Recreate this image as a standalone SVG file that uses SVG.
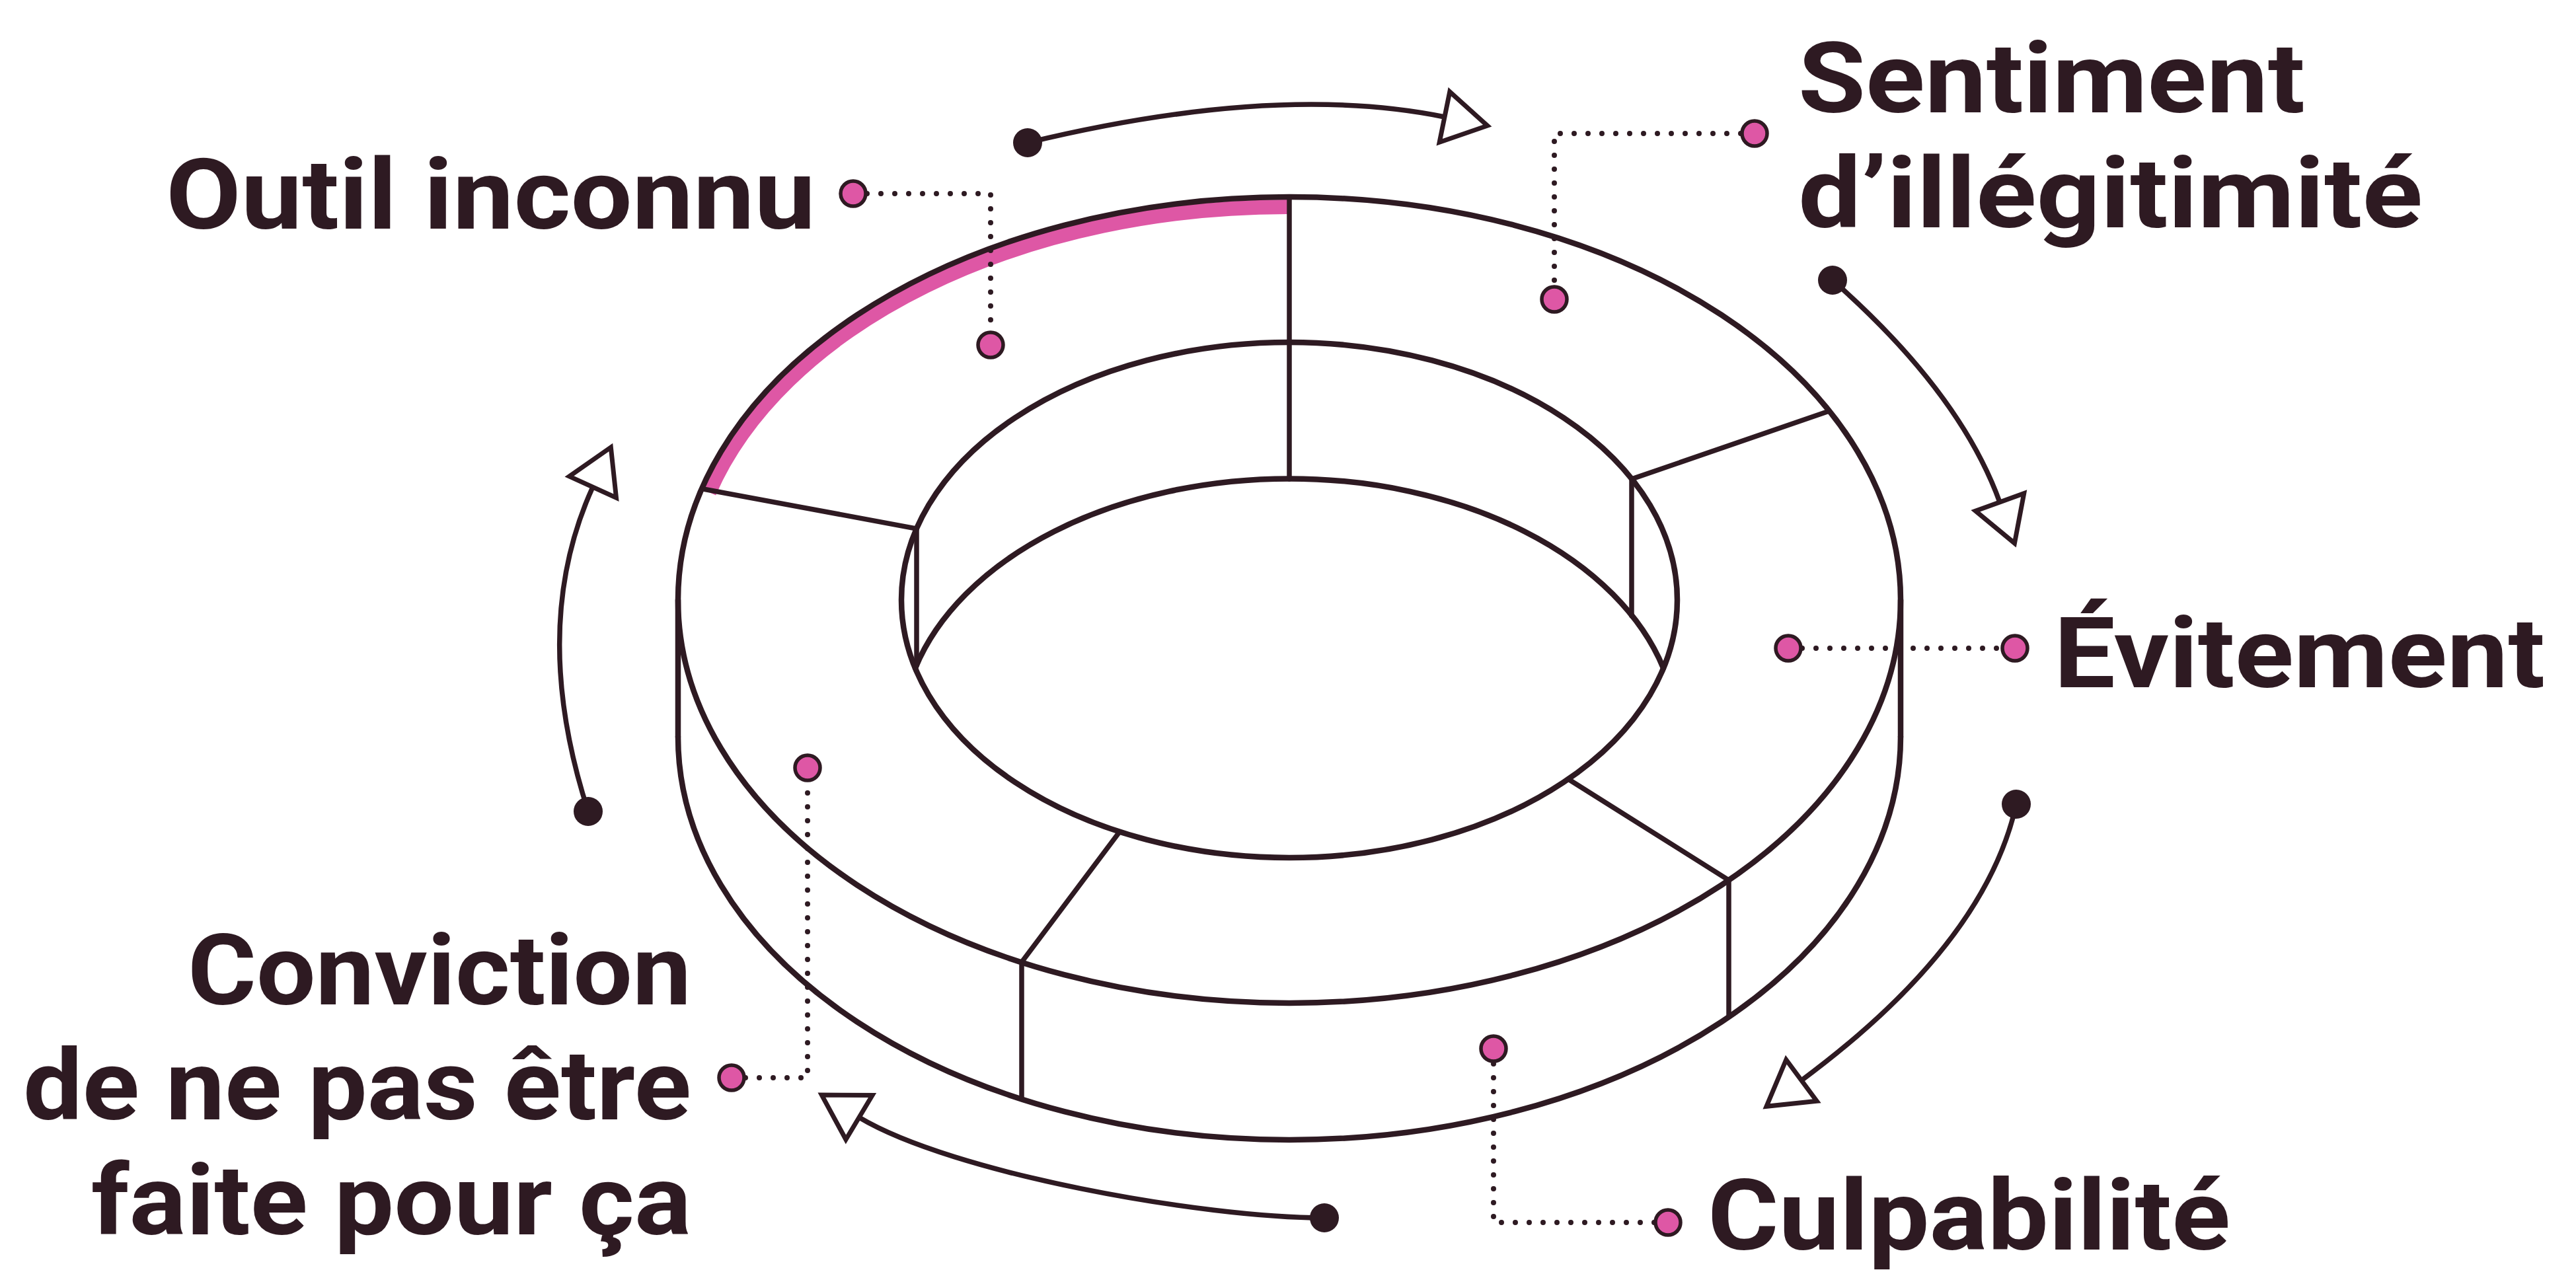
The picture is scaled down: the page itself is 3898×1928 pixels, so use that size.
<svg xmlns="http://www.w3.org/2000/svg" width="3898" height="1928" viewBox="0 0 3898 1928">
<defs>
<style>
.ln{fill:none;stroke:#2e1a22;stroke-width:8.5;stroke-linecap:round;stroke-linejoin:round}
.dv{fill:none;stroke:#2e1a22;stroke-width:7.5;stroke-linecap:round}
.pk{fill:none;stroke:#de57a5;stroke-width:22;stroke-linecap:butt}
.dot{fill:none;stroke:#2e1a22;stroke-width:8;stroke-linecap:round;stroke-dasharray:0 21}
.pd{fill:#de57a5;stroke:#2e1a22;stroke-width:5.5}
.sd{fill:#2e1a22}
.ar{fill:none;stroke:#2e1a22;stroke-width:7.5;marker-end:url(#ah)}
.lb{font-family:Roboto,"Noto Sans","Liberation Sans",sans-serif;font-weight:700;font-size:148px;fill:#2e1a22}
</style>
<marker id="ah" markerUnits="userSpaceOnUse" markerWidth="120" markerHeight="120" refX="0" refY="0" orient="auto" overflow="visible">
<path d="M0,-39 L66,0 L0,39 Z" fill="#ffffff" stroke="#2e1a22" stroke-width="7" stroke-linejoin="miter"/>
</marker>
</defs>
<rect width="3898" height="1928" fill="#ffffff"/>

<g id="ring">
<path class="ln" d="M1026,1115 A925,610 0 0,0 2876,1115"/>
<line class="ln" x1="1026" y1="908" x2="1026" y2="1115"/>
<line class="ln" x1="2876" y1="908" x2="2876" y2="1115"/>
<path class="pk" d="M1073,745 A910,595 0 0,1 1951,313"/>
<ellipse class="ln" cx="1951" cy="908" rx="925" ry="610"/>
<ellipse class="ln" cx="1951" cy="908" rx="587" ry="390"/>
<path class="ln" d="M1385,1011 A587,390 0 0,1 2517,1011"/>
<polyline class="dv" points="1951,298 1951,725"/>
<polyline class="dv" points="2768,622 2469,725 2469,932"/>
<polyline class="dv" points="2373,1179 2616,1332 2616,1539"/>
<polyline class="dv" points="1694,1259 1546,1456 1546,1663"/>
<polyline class="dv" points="1064,740 1387,800 1387,1007"/>
</g>

<g id="node-outil-inconnu">
<text class="lb" x="251" y="346" textLength="983" lengthAdjust="spacingAndGlyphs">Outil inconnu</text>
<polyline class="dot" points="1291,293 1499,293 1499,522"/>
<circle class="pd" cx="1291" cy="293" r="19"/>
<circle class="pd" cx="1499" cy="522" r="19"/>
</g>

<g id="node-sentiment">
<text class="lb" x="2721" y="170" textLength="767" lengthAdjust="spacingAndGlyphs">Sentiment</text>
<text class="lb" x="2721" y="344" textLength="945" lengthAdjust="spacingAndGlyphs">d’illégitimité</text>
<polyline class="dot" points="2655,202 2352,202 2352,453"/>
<circle class="pd" cx="2655" cy="202" r="19"/>
<circle class="pd" cx="2352" cy="453" r="19"/>
</g>

<g id="node-evitement">
<text class="lb" x="3108" y="1040" textLength="743" lengthAdjust="spacingAndGlyphs">Évitement</text>
<polyline class="dot" points="2706,981 3049,981"/>
<circle class="pd" cx="2706" cy="981" r="19"/>
<circle class="pd" cx="3049" cy="981" r="19"/>
</g>

<g id="node-culpabilite">
<text class="lb" x="2584" y="1891" textLength="791" lengthAdjust="spacingAndGlyphs">Culpabilité</text>
<polyline class="dot" points="2524,1850 2260,1850 2260,1587"/>
<circle class="pd" cx="2524" cy="1850" r="19"/>
<circle class="pd" cx="2260" cy="1587" r="19"/>
</g>

<g id="node-conviction">
<text class="lb" x="284" y="1520" textLength="762" lengthAdjust="spacingAndGlyphs">Conviction</text>
<text class="lb" x="35" y="1694" textLength="1011" lengthAdjust="spacingAndGlyphs">de ne pas être</text>
<text class="lb" x="138" y="1868" textLength="908" lengthAdjust="spacingAndGlyphs">faite pour ça</text>
<polyline class="dot" points="1107,1631 1222,1631 1222,1162"/>
<circle class="pd" cx="1107" cy="1631" r="19"/>
<circle class="pd" cx="1222" cy="1162" r="19"/>
</g>

<g id="connectors">
<path class="ar" d="M1555,216 Q1931,125 2186,177"/>
<circle class="sd" cx="1555" cy="216" r="22"/>
<path class="ar" d="M2773,424 Q2966,594 3026,760"/>
<circle class="sd" cx="2773" cy="424" r="22"/>
<path class="ar" d="M3051,1217 Q3004,1429 2726,1635"/>
<circle class="sd" cx="3051" cy="1217" r="22"/>
<path class="ar" d="M2004,1843 C1820,1843 1442,1776 1300,1691"/>
<circle class="sd" cx="2004" cy="1843" r="22"/>
<path class="ar" d="M890,1228 Q800,950 897,737"/>
<circle class="sd" cx="890" cy="1228" r="22"/>
</g>
</svg>
